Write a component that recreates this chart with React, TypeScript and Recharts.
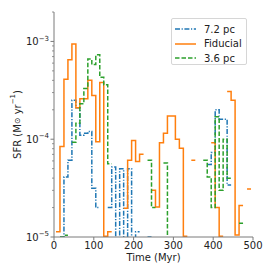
import { Legend, Line, LineChart, XAxis, YAxis } from "recharts";

// left edge of each 10 Myr bin
const binStart = [
  5, 15, 25, 35, 45, 55, 65, 75, 85, 95,
  105, 115, 125, 135, 145, 155, 165, 175, 185, 195,
  205, 215, 225, 235, 245, 255, 265, 275, 285, 295,
  305, 315, 325, 335, 345, 355, 365, 375, 385, 395,
  405, 415, 425, 435, 445, 455, 465, 475, 485, 495,
];
const binWidth = 10;

// SFR per bin (Msun/yr), null = no star formation
const sfr72pc = [
  null, 1.0e-5, 4.1e-5, 6.1e-5, 2.5e-4, 2.1e-4, 1.1e-4, 1.15e-4, 1.2e-4, 3.15e-5,
  2.0e-5, null, null, 2.0e-5, 5.2e-5, 1e-6, 5.0e-5, 1e-6, 5.0e-5, 1e-6,
  1.13e-5, null, null, 1.0e-5, null, null, null, null, null, null,
  null, null, null, null, null, null, null, null, 5.5e-5, 7.3e-5,
  2.0e-4, 1.6e-4, 1.6e-4, 3.4e-5, null, null, null, null, null, null,
];
const sfrFiducial = [
  1.13e-5, 8.4e-5, 4.1e-4, 6.5e-4, 9.4e-4, 2.1e-4, 2.6e-4, 2.6e-4, 4.0e-4, 2.8e-4,
  9.4e-5, 3.8e-4, 1.02e-5, 1.13e-5, null, null, null, 1.97e-5, 6.1e-5, 9.7e-5,
  5.9e-5, 7.0e-5, null, null, 3.0e-5, 2.03e-5, 9.2e-5, 1.15e-4, 1.73e-4, 1.73e-4,
  1.0e-4, 8.1e-5, 1.02e-5, null, 6.1e-5, null, null, null, null, 9.2e-5,
  2.0e-5, 1.02e-5, null, 3.07e-4, 2.5e-4, 1.05e-5, 2.1e-5, null, 3.1e-5, null,
];
const sfr36pc = [
  null, 1.0e-5, 1.04e-5, null, 9.3e-5, 1.46e-4, 2.3e-4, 3.3e-4, 6.6e-4, 5.8e-4,
  7.3e-4, 4.3e-4, 3.6e-4, 5.6e-5, null, null, null, null, null, null,
  null, null, null, 6.1e-5, 2.0e-5, null, null, 5.7e-5, 1e-6, null,
  null, null, null, null, null, null, null, 6.1e-5, 4.1e-5, 2.0e-5,
  1.7e-4, 3.0e-5, 1.0e-4, 4.0e-5, null, null, 1.38e-5, null, null, null,
];

const xTicks = [0, 100, 200, 300, 400, 500];
const yMajor = [1e-5, 1e-4, 1e-3];
const yMajorExp = ["\u22125", "\u22124", "\u22123"];
const yMinor = [
  2e-5, 3e-5, 4e-5, 5e-5, 6e-5, 7e-5, 8e-5, 9e-5,
  2e-4, 3e-4, 4e-4, 5e-4, 6e-4, 7e-4, 8e-4, 9e-4, 2e-3,
];

const series = [
  { name: "7.2 pc", values: sfr72pc, color: "#1f77b4", dash: "5 1.6 1.2 1.6" },
  { name: "Fiducial", values: sfrFiducial, color: "#ff7f0e", dash: undefined },
  { name: "3.6 pc", values: sfr36pc, color: "#2ca02c", dash: "4.5 2" },
];

const FONT = "'DejaVu Sans', sans-serif";
const SPINE = "#7a7a7a";

// turn histogram bins into step points; a null bin breaks the line
function toSteps(values: (number | null)[]) {
  const pts: { t: number; sfr: number | null }[] = [];
  values.forEach((v, i) => {
    const t0 = binStart[i];
    if (v == null) {
      pts.push({ t: t0, sfr: null });
    } else {
      pts.push({ t: t0, sfr: v }, { t: t0 + binWidth, sfr: v });
    }
  });
  return pts;
}

const XTick = (props: any) => {
  const { x, y, payload } = props;
  return (
    <g>
      <line x1={x} x2={x} y1={y} y2={y + 3.5} stroke={SPINE} />
      <text x={x} y={y + 12} textAnchor="middle" fontSize={10} fontFamily={FONT} fill="#222">
        {payload.value}
      </text>
    </g>
  );
};

const YTick = (props: any) => {
  const { x, y, payload } = props;
  const idx = yMajor.indexOf(payload.value);
  if (idx < 0) {
    return <line x1={x - 2} x2={x} y1={y} y2={y} stroke={SPINE} strokeWidth={0.8} />;
  }
  return (
    <g>
      <line x1={x - 3.5} x2={x} y1={y} y2={y} stroke={SPINE} />
      <text x={x - 5} y={y + 3.6} textAnchor="end" fontSize={10} fontFamily={FONT} fill="#222">
        10
        <tspan dy={-4.5} fontSize={7}>
          {yMajorExp[idx]}
        </tspan>
      </text>
    </g>
  );
};

const YLabel = (props: any) => {
  const { viewBox } = props;
  const cx = 17;
  const cy = viewBox.y + viewBox.height / 2;
  return (
    <text
      x={cx}
      y={cy}
      transform={`rotate(-90 ${cx} ${cy})`}
      textAnchor="middle"
      dominantBaseline="central"
      fontSize={10}
      fontFamily={FONT}
      fill="#222"
    >
      SFR (M<tspan fontSize={8}>{"\u2299"}</tspan> yr
      <tspan dy={-4} fontSize={7}>
        {"\u22121"}
      </tspan>
      <tspan dy={4}>)</tspan>
    </text>
  );
};

const XLabel = (props: any) => {
  const { viewBox } = props;
  return (
    <text
      x={viewBox.x + viewBox.width / 2}
      y={viewBox.y + 24}
      textAnchor="middle"
      fontSize={10}
      fontFamily={FONT}
      fill="#222"
    >
      Time (Myr)
    </text>
  );
};

const LegendBox = () => (
  <div
    style={{
      border: "1px solid #d6d6d6",
      borderRadius: 2,
      background: "rgba(255,255,255,0.85)",
      width: 76,
      height: 47,
      boxSizing: "border-box",
      paddingTop: 3,
    }}
  >
    {series.map((s) => (
      <div key={s.name} style={{ display: "flex", alignItems: "center", height: 14.5 }}>
        <svg width={30} height={10} style={{ flex: "none" }}>
          <line x1={3} x2={24} y1={5} y2={5} stroke={s.color} strokeWidth={1.5} strokeDasharray={s.dash} />
        </svg>
        <span style={{ fontFamily: FONT, fontSize: 10, color: "#222", marginLeft: 2 }}>{s.name}</span>
      </div>
    ))}
  </div>
);

export default function App() {
  return (
    <div style={{ position: "absolute", left: 0, top: 0, width: 274, height: 274, background: "#fff" }}>
      <LineChart width={274} height={274} margin={{ top: 12, right: 21, bottom: 0, left: 0 }}>
        <XAxis
          xAxisId="b"
          type="number"
          dataKey="t"
          domain={[0, 500]}
          ticks={xTicks}
          interval={0}
          allowDataOverflow
          height={37}
          tickSize={0}
          tickMargin={0}
          tick={<XTick />}
          axisLine={{ stroke: SPINE }}
          label={<XLabel />}
        />
        <XAxis
          xAxisId="t"
          orientation="top"
          type="number"
          dataKey="t"
          domain={[0, 500]}
          height={0}
          tick={false}
          tickLine={false}
          axisLine={{ stroke: SPINE }}
        />
        <YAxis
          yAxisId="l"
          scale="log"
          domain={[1e-5, 2e-3]}
          allowDataOverflow
          ticks={[...yMajor, ...yMinor].sort((a, b) => a - b)}
          interval={0}
          width={54}
          tickSize={0}
          tickMargin={0}
          tick={<YTick />}
          axisLine={{ stroke: SPINE }}
          label={<YLabel />}
        />
        <YAxis
          yAxisId="r"
          orientation="right"
          scale="log"
          domain={[1e-5, 2e-3]}
          allowDataOverflow
          width={0}
          tick={false}
          tickLine={false}
          axisLine={{ stroke: SPINE }}
        />
        <Legend
          layout="vertical"
          align="center"
          verticalAlign="middle"
          content={<LegendBox />}
          wrapperStyle={{ left: 171, top: 18, width: 76, height: 47 }}
        />
        {series.map((s) => (
          <Line
            key={s.name}
            xAxisId="b"
            yAxisId="l"
            data={toSteps(s.values)}
            dataKey="sfr"
            name={s.name}
            type="linear"
            stroke={s.color}
            strokeWidth={1.5}
            strokeDasharray={s.dash}
            dot={false}
            activeDot={false}
            connectNulls={false}
            isAnimationActive={false}
          />
        ))}
      </LineChart>
    </div>
  );
}
